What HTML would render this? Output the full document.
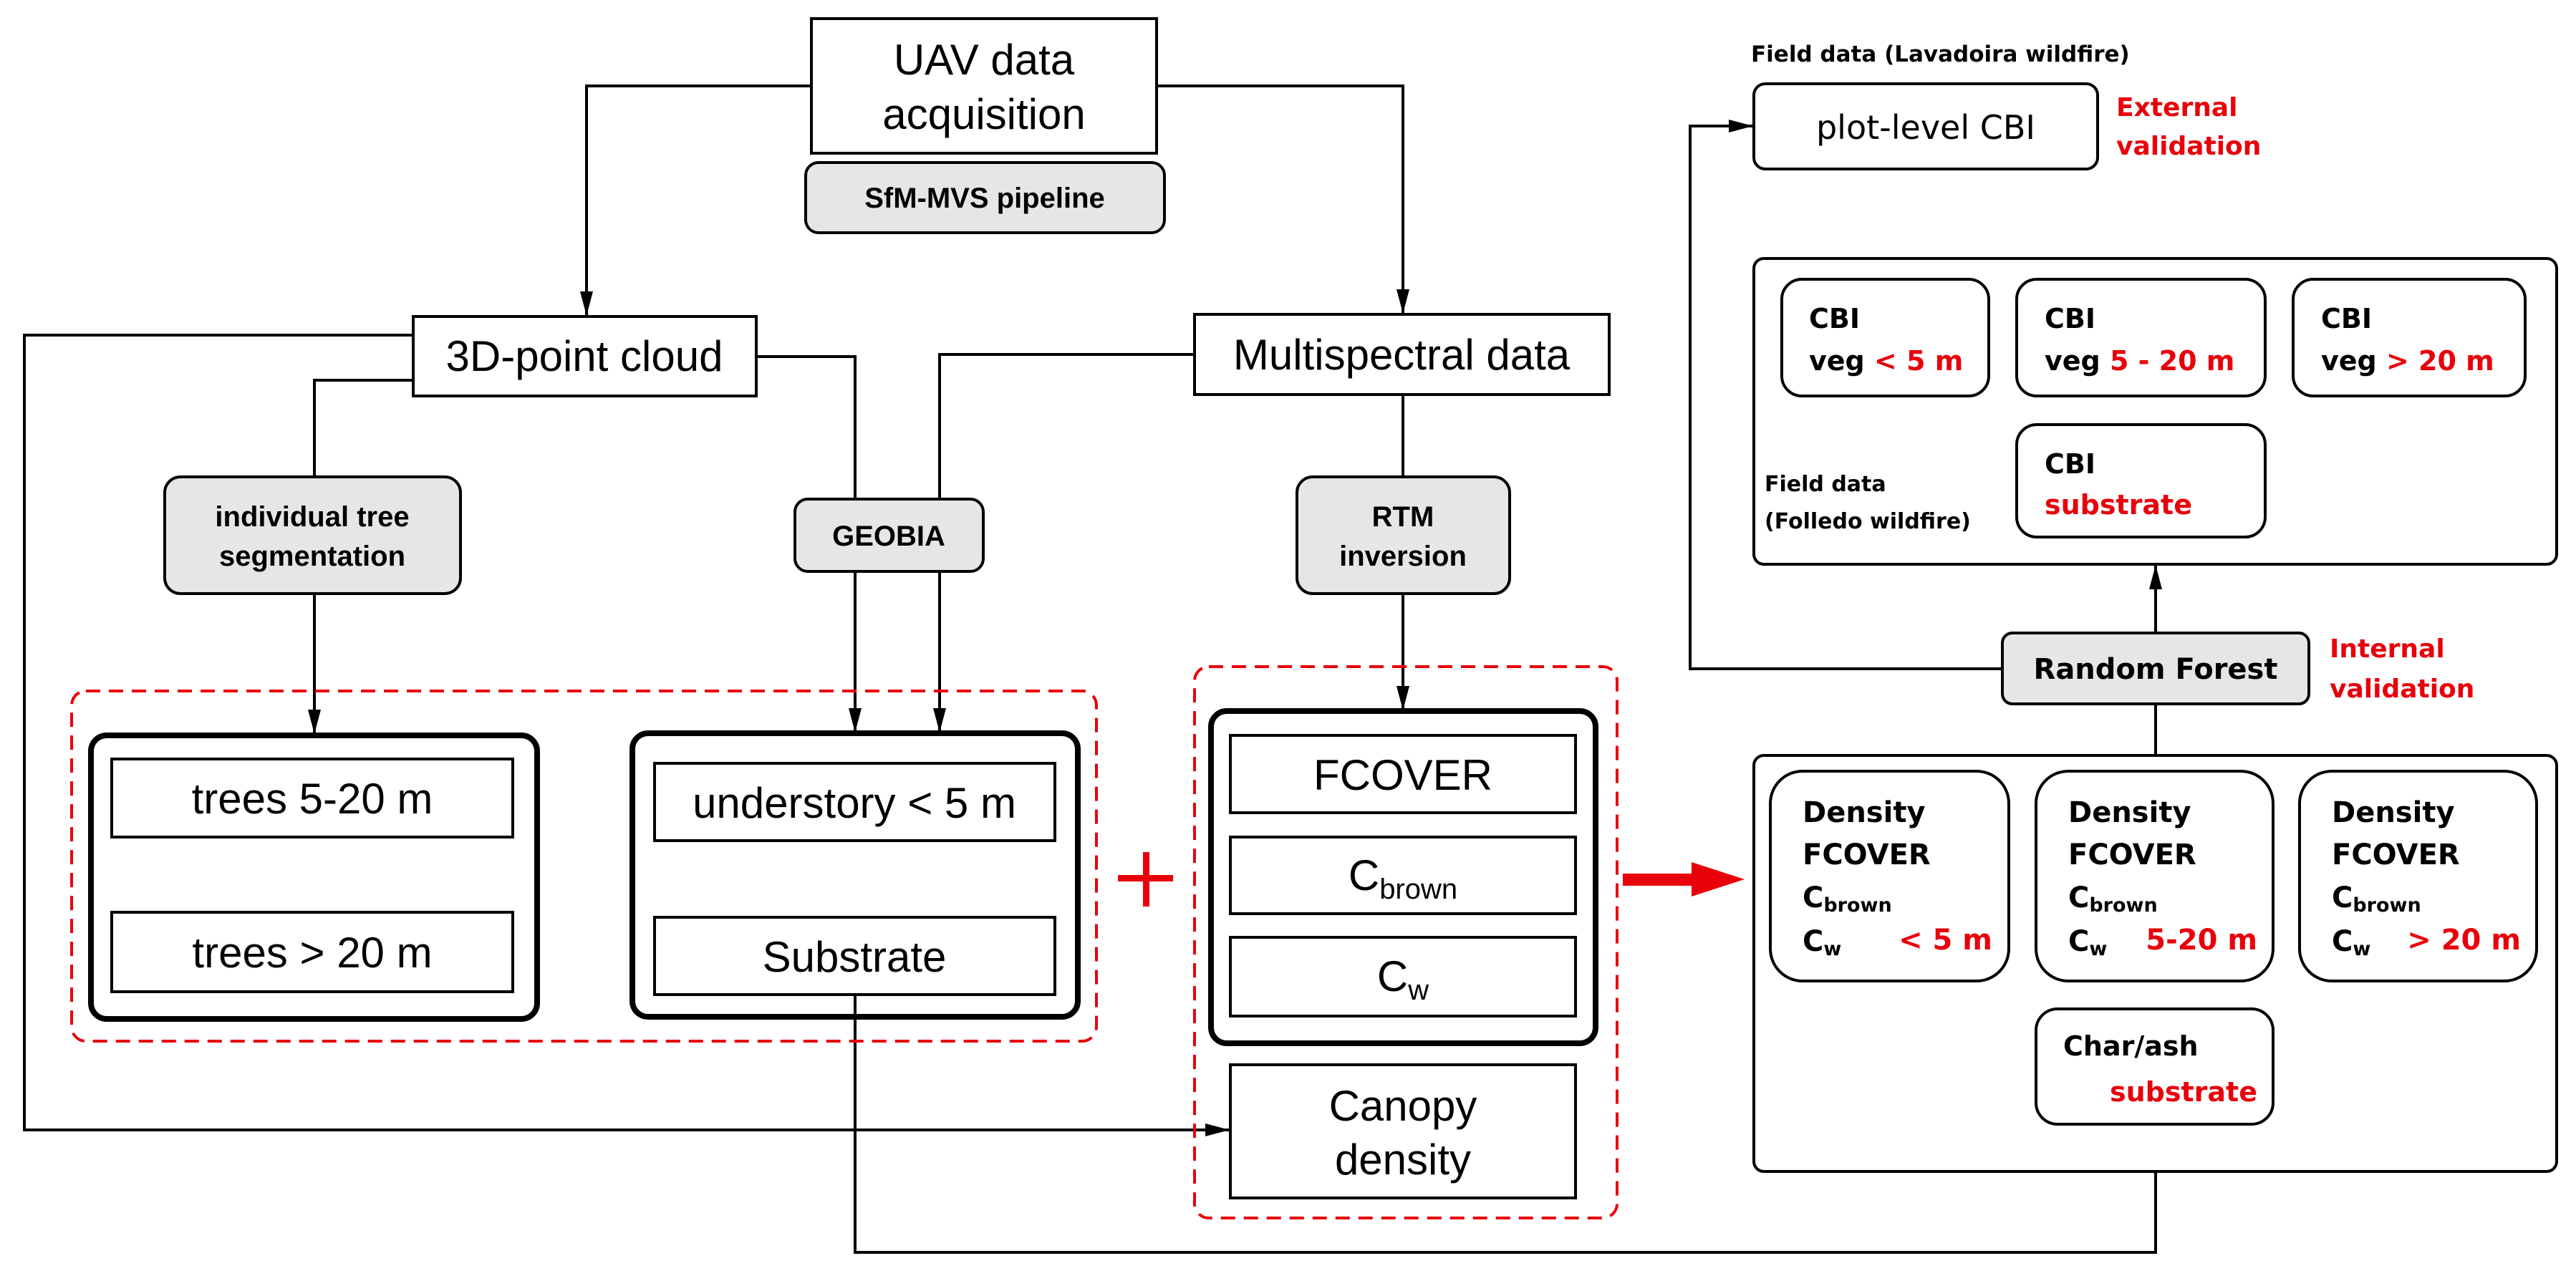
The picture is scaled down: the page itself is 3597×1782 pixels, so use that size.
<!DOCTYPE html>
<html><head><meta charset="utf-8"><style>
html,body{margin:0;padding:0;background:#fff}
svg{display:block}
text{font-family:"Liberation Sans",Arial,sans-serif}
.n{font-size:60px}
.b{font-size:40px;font-weight:bold}
.r{fill:#e8000b}
.dv{font-family:"DejaVu Sans","Liberation Sans",sans-serif}
</style></head><body>
<svg width="3597" height="1782" viewBox="0 0 3597 1782" xmlns="http://www.w3.org/2000/svg">
<defs>
<marker id="a" markerWidth="34" markerHeight="18" refX="33" refY="9" orient="auto" markerUnits="userSpaceOnUse" viewBox="0 0 34 18" preserveAspectRatio="none">
<path d="M0,0 L34,9 L0,18 z" fill="#000"/></marker>
</defs>
<style>.ln{fill:none;stroke:#000;stroke-width:4}</style>
<g class="ln">
<polyline points="1133,120 819,120 819,440" marker-end="url(#a)"/>
<polyline points="1615,120 1959,120 1959,437" marker-end="url(#a)"/>
<polyline points="577,468 34,468 34,1578 1716,1578" marker-end="url(#a)"/>
<polyline points="577,531 439,531 439,666"/>
<polyline points="439,829 439,1024" marker-end="url(#a)"/>
<polyline points="1056,498 1194,498 1194,697"/>
<polyline points="1668,495 1312,495 1312,697"/>
<polyline points="1194,798 1194,1022" marker-end="url(#a)"/>
<polyline points="1312,798 1312,1022" marker-end="url(#a)"/>
<polyline points="1959,551 1959,666"/>
<polyline points="1959,829 1959,991" marker-end="url(#a)"/>
<polyline points="1194,1389 1194,1749 3010,1749 3010,1572" marker-end="url(#a)"/>
<polyline points="2796,934 2360,934 2360,176 2447,176" marker-end="url(#a)"/>
<polyline points="3010,884 3010,790" marker-end="url(#a)"/>
<polyline points="3010,983 3010,1055"/>
</g>
<rect x="1133" y="26" width="482" height="188" fill="#fff" stroke="#000" stroke-width="4"/>
<text class="n" x="1374" y="104" text-anchor="middle">UAV data</text>
<text class="n" x="1374" y="180" text-anchor="middle">acquisition</text>
<rect x="1125" y="227" width="501" height="98" rx="18" fill="#e6e6e6" stroke="#000" stroke-width="4"/>
<text class="b" x="1375" y="290" text-anchor="middle">SfM-MVS pipeline</text>
<rect x="577" y="442" width="479" height="111" fill="#fff" stroke="#000" stroke-width="4"/>
<text class="n" x="816" y="518" text-anchor="middle">3D-point cloud</text>
<rect x="1668" y="439" width="579" height="112" fill="#fff" stroke="#000" stroke-width="4"/>
<text class="n" x="1957" y="516" text-anchor="middle">Multispectral data</text>
<rect x="230" y="666" width="413" height="163" rx="22" fill="#e6e6e6" stroke="#000" stroke-width="4"/>
<text class="b" x="436" y="735" text-anchor="middle">individual tree</text>
<text class="b" x="436" y="790" text-anchor="middle">segmentation</text>
<rect x="1110" y="697" width="263" height="101" rx="18" fill="#e6e6e6" stroke="#000" stroke-width="4"/>
<text class="b" x="1241" y="762" text-anchor="middle">GEOBIA</text>
<rect x="1811" y="666" width="297" height="163" rx="22" fill="#e6e6e6" stroke="#000" stroke-width="4"/>
<text class="b" x="1959" y="735" text-anchor="middle">RTM</text>
<text class="b" x="1959" y="790" text-anchor="middle">inversion</text>
<rect x="100" y="965" width="1431" height="489" rx="20" fill="none" stroke="#e8000b" stroke-width="4" stroke-dasharray="20,12"/>
<rect x="1668" y="931" width="590" height="770" rx="20" fill="none" stroke="#e8000b" stroke-width="4" stroke-dasharray="20,12"/>
<rect x="127" y="1027" width="623" height="396" rx="22" fill="none" stroke="#000" stroke-width="8"/>
<rect x="156" y="1060" width="560" height="109" fill="#fff" stroke="#000" stroke-width="4"/>
<text class="n" x="436" y="1136" text-anchor="middle" font-size="56">trees  5-20  m</text>
<rect x="156" y="1274" width="560" height="111" fill="#fff" stroke="#000" stroke-width="4"/>
<text class="n" x="436" y="1351" text-anchor="middle" font-size="56">trees  &gt; 20  m</text>
<rect x="883" y="1024" width="622" height="396" rx="22" fill="none" stroke="#000" stroke-width="8"/>
<rect x="914" y="1066" width="559" height="108" fill="#fff" stroke="#000" stroke-width="4"/>
<text class="n" x="1193" y="1142" text-anchor="middle" font-size="56">understory &lt; 5 m</text>
<rect x="914" y="1281" width="559" height="108" fill="#fff" stroke="#000" stroke-width="4"/>
<text class="n" x="1193" y="1357" text-anchor="middle" font-size="56">Substrate</text>
<rect x="1561" y="1222" width="77" height="9" fill="#e8000b"/>
<rect x="1596" y="1190" width="9" height="76" fill="#e8000b"/>
<rect x="1691" y="993" width="537" height="464" rx="22" fill="none" stroke="#000" stroke-width="8"/>
<rect x="1718" y="1027" width="482" height="108" fill="#fff" stroke="#000" stroke-width="4"/>
<text class="n" x="1959" y="1103" text-anchor="middle" font-size="56">FCOVER</text>
<rect x="1718" y="1169" width="482" height="107" fill="#fff" stroke="#000" stroke-width="4"/>
<text class="n" x="1959" y="1243" text-anchor="middle" font-size="56">C<tspan font-size="40" dy="12">brown</tspan></text>
<rect x="1718" y="1309" width="482" height="110" fill="#fff" stroke="#000" stroke-width="4"/>
<text class="n" x="1959" y="1384" text-anchor="middle" font-size="56">C<tspan font-size="40" dy="12">w</tspan></text>
<rect x="1718" y="1487" width="482" height="186" fill="#fff" stroke="#000" stroke-width="4"/>
<text class="n" x="1959" y="1565" text-anchor="middle" font-size="56">Canopy</text>
<text class="n" x="1959" y="1640" text-anchor="middle" font-size="56">density</text>
<rect x="2266" y="1220" width="100" height="17" fill="#e8000b"/>
<path d="M2362,1204 L2436,1228 L2362,1252 z" fill="#e8000b"/>
<g class="dv">
<text class="dv" x="2445" y="86" font-size="31" font-weight="bold">Field data (Lavadoira wildfire)</text>
<rect x="2449" y="117" width="480" height="119" rx="16" fill="#fff" stroke="#000" stroke-width="4"/>
<text class="dv" x="2689" y="194" font-size="46" text-anchor="middle">plot-level  CBI</text>
<text class="dv" x="2955" y="162" font-size="36" font-weight="bold" fill="#e8000b">External</text>
<text class="dv" x="2955" y="216" font-size="36" font-weight="bold" fill="#e8000b">validation</text>
<rect x="2449" y="361" width="1121" height="427" rx="14" fill="#fff" stroke="#000" stroke-width="4"/>
<g font-size="38" font-weight="bold">
<rect x="2488" y="390" width="289" height="163" rx="28" fill="#fff" stroke="#000" stroke-width="4"/>
<text class="dv" x="2526" y="458">CBI</text><text class="dv" x="2526" y="517">veg <tspan fill="#e8000b">&lt; 5 m</tspan></text>
<rect x="2816" y="390" width="347" height="163" rx="28" fill="#fff" stroke="#000" stroke-width="4"/>
<text class="dv" x="2855" y="458">CBI</text><text class="dv" x="2855" y="517">veg <tspan fill="#e8000b">5 - 20 m</tspan></text>
<rect x="3202" y="390" width="324" height="163" rx="28" fill="#fff" stroke="#000" stroke-width="4"/>
<text class="dv" x="3241" y="458">CBI</text><text class="dv" x="3241" y="517">veg <tspan fill="#e8000b">&gt; 20 m</tspan></text>
<rect x="2816" y="593" width="347" height="157" rx="28" fill="#fff" stroke="#000" stroke-width="4"/>
<text class="dv" x="2855" y="661">CBI</text><text class="dv" x="2855" y="718" fill="#e8000b">substrate</text>
</g>
<text class="dv" x="2464" y="686" font-size="30" font-weight="bold">Field  data</text>
<text class="dv" x="2464" y="738" font-size="30" font-weight="bold">(Folledo  wildfire)</text>
<rect x="2796" y="884" width="428" height="99" rx="14" fill="#e6e6e6" stroke="#000" stroke-width="4"/>
<text class="dv" x="3010" y="948" font-size="40" font-weight="bold" text-anchor="middle">Random  Forest</text>
<text class="dv" x="3253" y="918" font-size="36" font-weight="bold" fill="#e8000b">Internal</text>
<text class="dv" x="3253" y="974" font-size="36" font-weight="bold" fill="#e8000b">validation</text>
<rect x="2449" y="1055" width="1121" height="581" rx="14" fill="#fff" stroke="#000" stroke-width="4"/>
<g font-size="40" font-weight="bold">
<rect x="2472" y="1077" width="333" height="293" rx="45" fill="#fff" stroke="#000" stroke-width="4"/>
<text class="dv" x="2517" y="1148">Density</text><text class="dv" x="2517" y="1207">FCOVER</text>
<text class="dv" x="2517" y="1267">C<tspan font-size="27" dy="6">brown</tspan></text>
<text class="dv" x="2517" y="1328">C<tspan font-size="27" dy="6">w</tspan></text>
<text class="dv" x="2782" y="1326" text-anchor="end" fill="#e8000b">&lt; 5 m</text>
<rect x="2843" y="1077" width="331" height="293" rx="45" fill="#fff" stroke="#000" stroke-width="4"/>
<text class="dv" x="2888" y="1148">Density</text><text class="dv" x="2888" y="1207">FCOVER</text>
<text class="dv" x="2888" y="1267">C<tspan font-size="27" dy="6">brown</tspan></text>
<text class="dv" x="2888" y="1328">C<tspan font-size="27" dy="6">w</tspan></text>
<text class="dv" x="3152" y="1326" text-anchor="end" fill="#e8000b">5-20 m</text>
<rect x="3211" y="1077" width="331" height="293" rx="45" fill="#fff" stroke="#000" stroke-width="4"/>
<text class="dv" x="3256" y="1148">Density</text><text class="dv" x="3256" y="1207">FCOVER</text>
<text class="dv" x="3256" y="1267">C<tspan font-size="27" dy="6">brown</tspan></text>
<text class="dv" x="3256" y="1328">C<tspan font-size="27" dy="6">w</tspan></text>
<text class="dv" x="3520" y="1326" text-anchor="end" fill="#e8000b">&gt; 20 m</text>
<rect x="2843" y="1409" width="331" height="161" rx="30" fill="#fff" stroke="#000" stroke-width="4"/>
<text class="dv" x="2881" y="1474" font-size="38">Char/ash</text>
<text class="dv" x="3152" y="1538" font-size="38" text-anchor="end" fill="#e8000b">substrate</text>
</g>
</g>
</svg>
</body></html>
